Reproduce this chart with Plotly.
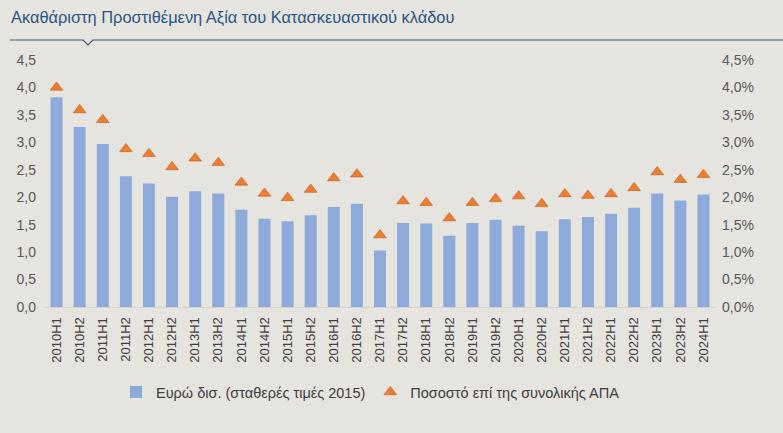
import plotly.graph_objects as go

# Data
periods = [
    "2010H1", "2010H2", "2011H1", "2011H2", "2012H1", "2012H2", "2013H1", "2013H2",
    "2014H1", "2014H2", "2015H1", "2015H2", "2016H1", "2016H2", "2017H1", "2017H2",
    "2018H1", "2018H2", "2019H1", "2019H2", "2020H1", "2020H2", "2021H1", "2021H2",
    "2022H1", "2022H2", "2023H1", "2023H2", "2024H1",
]
gva_bn_eur = [
    3.82, 3.28, 2.97, 2.38, 2.25, 2.01, 2.11, 2.07,
    1.77, 1.61, 1.56, 1.67, 1.82, 1.88, 1.03, 1.53,
    1.52, 1.30, 1.53, 1.59, 1.48, 1.38, 1.60, 1.64,
    1.70, 1.81, 2.07, 1.94, 2.05,
]
share_of_gva = [
    4.00, 3.59, 3.41, 2.88, 2.79, 2.55, 2.71, 2.63,
    2.27, 2.07, 1.99, 2.14, 2.35, 2.42, 1.31, 1.93,
    1.90, 1.62, 1.90, 1.97, 2.02, 1.88, 2.06, 2.03,
    2.06, 2.17, 2.46, 2.32, 2.41,
]

BG = "#e6e4df"
FONT = "Liberation Sans, Arial, sans-serif"
W, H = 783, 433
L, R, T, B = 45, 68, 60, 126

fig = go.Figure()

fig.add_trace(go.Bar(
    x=periods,
    y=gva_bn_eur,
    name="Ευρώ δισ. (σταθερές τιμές 2015)",
    marker=dict(color="#8eaadb", line=dict(width=0)),
    yaxis="y",
))

fig.add_trace(go.Scatter(
    x=periods,
    y=[v / 100 for v in share_of_gva],
    name="Ποσοστό επί της συνολικής ΑΠΑ",
    mode="markers",
    marker=dict(symbol="triangle-up", size=11, color="#ed7d31",
                line=dict(color="#c0591a", width=0.6)),
    yaxis="y2",
))


def px_to_paper(px, py):
    # convert window pixels to paper coords of the plot area
    return (px - L) / (W - L - R), (H - B - py) / (H - T - B)


# header rule with the small notch under the title
x0, y0 = px_to_paper(10, 40)
xa, _ = px_to_paper(83, 40)
xn, yn = px_to_paper(88, 45)
xb, _ = px_to_paper(93, 40)
x1, _ = px_to_paper(783, 40)
header_path = f"M {x0},{y0} L {xa},{y0} L {xn},{yn} L {xb},{y0} L {x1},{y0}"

fig.update_layout(
    width=W,
    height=H,
    paper_bgcolor=BG,
    plot_bgcolor=BG,
    separators=",.",
    font=dict(family=FONT, size=12, color="#595959"),
    margin=dict(l=L, r=R, t=T, b=B),
    bargap=0.48,
    showlegend=True,
    legend=dict(
        orientation="h",
        x=px_to_paper(116, 0)[0], xanchor="left",
        y=px_to_paper(0, 392)[1], yanchor="middle",
        font=dict(size=14.5, color="#404040"),
        bgcolor="rgba(0,0,0,0)",
        itemwidth=30,
    ),
    xaxis=dict(
        type="category",
        range=[-0.5, len(periods) - 0.5],
        tickangle=-90,
        showgrid=False,
        showline=True,
        linecolor="#d4d2cc",
        ticks="",
        ticklabelstandoff=4,
        tickfont=dict(size=13, color="#404040"),
    ),
    yaxis=dict(
        range=[0, 4.5],
        dtick=0.5,
        tickformat=".1f",
        showgrid=False,
        zeroline=False,
        ticks="",
        ticklabelstandoff=8,
        tickfont=dict(size=14, color="#595959"),
    ),
    yaxis2=dict(
        range=[0, 0.045],
        dtick=0.005,
        tickformat=".1%",
        overlaying="y",
        side="right",
        showgrid=False,
        zeroline=False,
        ticks="",
        ticklabelstandoff=6,
        tickfont=dict(size=14, color="#595959"),
    ),
    shapes=[dict(
        type="path", xref="paper", yref="paper", path=header_path,
        line=dict(color="#44546a", width=1.2),
    )],
    annotations=[dict(
        text="Ακαθάριστη Προστιθέμενη Αξία του Κατασκευαστικού κλάδου",
        xref="paper", yref="paper",
        x=px_to_paper(9, 0)[0], y=px_to_paper(0, 18)[1],
        xanchor="left", yanchor="middle",
        showarrow=False,
        font=dict(family=FONT, size=16.4, color="#2a5783"),
    )],
)

# drop the browser's default page margin so the figure fills the window
fig.write_html(
    "out.html",
    config={"displayModeBar": False},
    post_script="document.body.style.margin='0';",
)
